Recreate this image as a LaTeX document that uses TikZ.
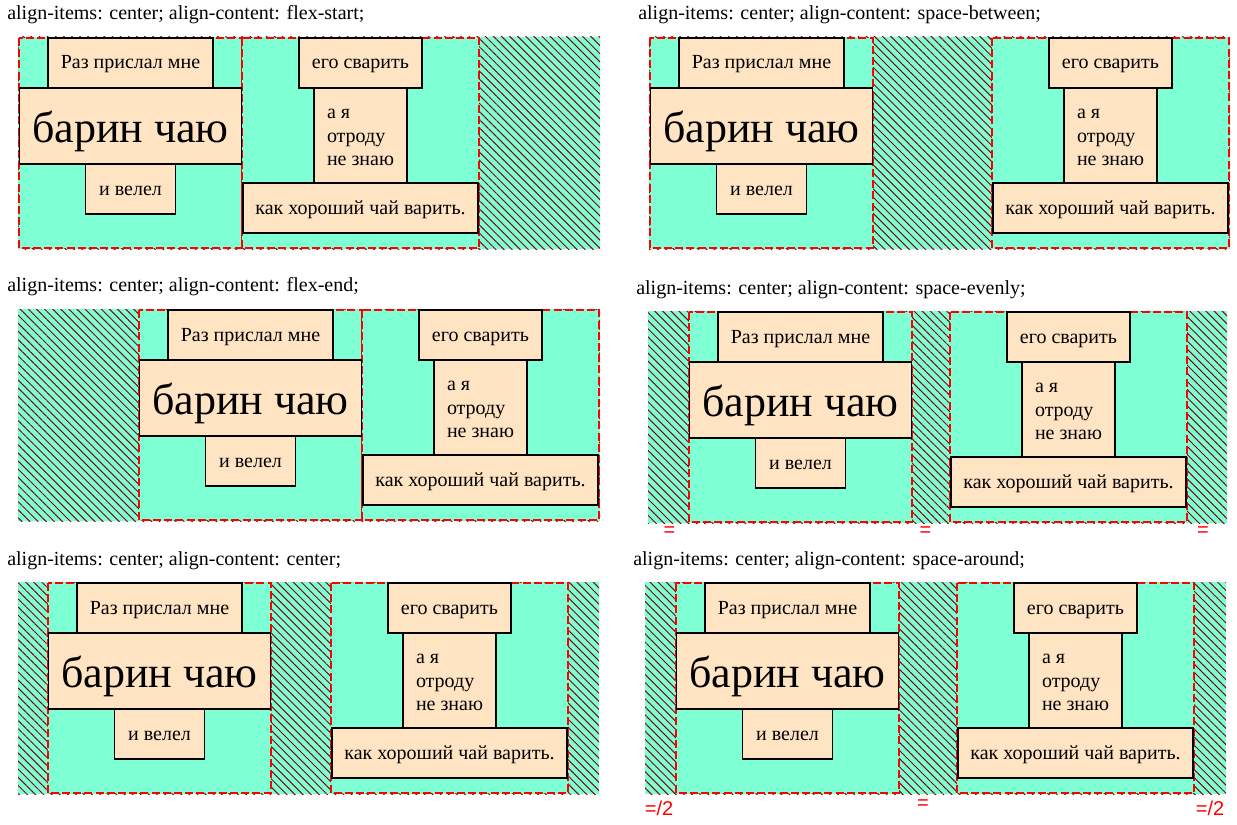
\documentclass[tikz,border=0pt]{standalone}
\usepackage{fontspec}
\setmainfont{Liberation Serif}
\newfontfamily\marcasfont{Liberation Sans}
\usetikzlibrary{positioning,patterns.meta}
\definecolor{aguaflex}{HTML}{7FFFD4}
\definecolor{bizcocho}{HTML}{FFE4C4}
\definecolor{rojoborde}{HTML}{FF0000}
\definecolor{rayado}{HTML}{7A0808}

\begin{document}
\begin{tikzpicture}[x=0.75pt, y=-0.75pt,
    contenedor/.style={preaction={fill=aguaflex}, pattern={Lines[angle=-45, distance=4.3pt, line width=0.75pt]}, pattern color=rayado},
    linea/.style={fill=aguaflex, draw=rojoborde, line width=2.1pt, dash pattern=on 6pt off 2.4pt},
    caja/.style={draw=black, fill=bizcocho, line width=1pt, inner sep=0pt, outer sep=0pt,
      font=\fontsize{15}{17.6}\selectfont, minimum height=37.5pt},
    elem/.style={caja, text height=13pt, text depth=4pt},
    bloque/.style={caja, align=left, minimum height=71.25pt},
    grande/.style={caja, font=\fontsize{33}{40}\selectfont, minimum height=57pt, text height=29.7pt, text depth=5.7pt},
    titulo/.style={anchor=base west, inner sep=0pt, font=\fontsize{15}{18}\selectfont},
    igual/.style={text=rojoborde, inner sep=0pt, font=\marcasfont\fontsize{15}{18}\selectfont}
  ]
    \useasboundingbox (0,0) rectangle (1237,824);

    \foreach \p/\X/\Y/\R/\A/\B/\tx/\ty/\txt in {
      1/18/37/600/19/242/7/20/{align-items: center; align-content: flex-start;},
      2/649/37/1230/650/992/638/20/{align-items: center; align-content: space-between;},
      3/18/309/600/139/362/7/291/{align-items: center; align-content: flex-end;},
      4/648/311/1227/689/950/636/294/{align-items: center; align-content: space-evenly;},
      5/18/582/599/48/331/7/565/{align-items: center; align-content: center;},
      6/645/582/1226/676/957/633/565/{align-items: center; align-content: space-around;}}{
      \node[titulo] (titulo-\p) at (\tx,\ty) {\txt};
      \path[contenedor] (\X,\Y) rectangle (\R,\Y+212);
      \draw[linea] (\A,\Y+1) rectangle ++(223,210);
      \draw[linea] (\B,\Y+1) rectangle ++(237,210);

      \node[elem, minimum width=123.75pt, anchor=north] (raz-\p) at (\A+111.5,\Y+1) {Раз прислал мне};
      \node[grande, minimum width=166.5pt, below=0pt of raz-\p] (barin-\p) {барин чаю};
      \node[elem, minimum width=67.5pt, below=0pt of barin-\p] (velel-\p) {и велел};

      \node[elem, minimum width=92.25pt, anchor=north] (ego-\p) at (\B+118.5,\Y+1) {его сварить};
      \node[bloque, minimum width=69.75pt, below=0pt of ego-\p] (otrodu-\p) {\rule{0pt}{10pt}а я\\отроду\\не знаю};
      \node[elem, minimum width=176.25pt, below=0pt of otrodu-\p] (kak-\p) {как хороший чай варить.};
    }

    \node[igual] (igual-a) at (669.5,532) {=};
    \node[igual] (igual-b) at (925.5,532) {=};
    \node[igual] (igual-c) at (1203,532) {=};
    \node[igual, anchor=base] (mitad-a) at (659,815) {=/2};
    \node[igual] (igual-d) at (923,805) {=};
    \node[igual, anchor=base] (mitad-b) at (1210,815) {=/2};
  \end{tikzpicture}
\end{document}
